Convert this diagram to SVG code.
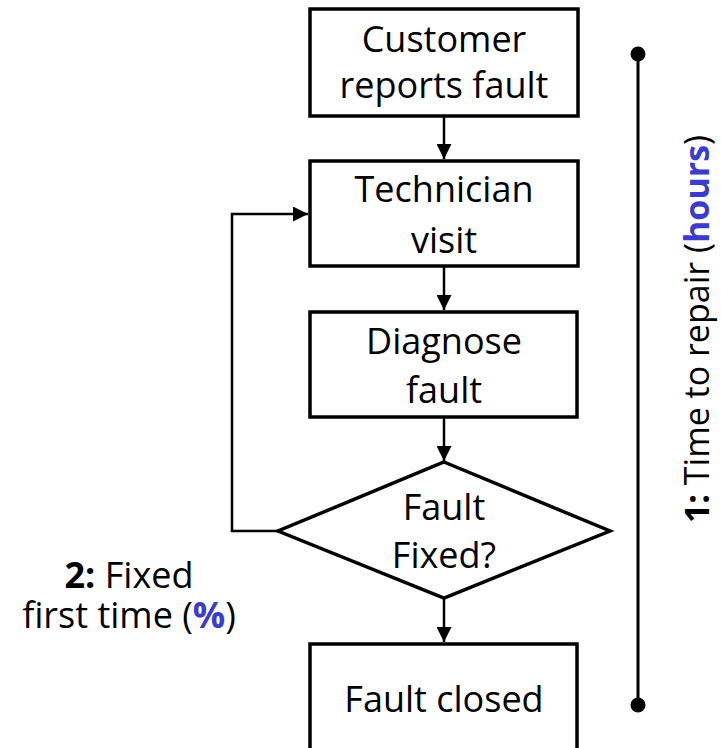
<svg xmlns="http://www.w3.org/2000/svg" width="721" height="748" viewBox="0 0 721 748">
<style>
.box{fill:#fff;stroke:#000;stroke-width:3.5}
.t{font-family:"Open Sans","Liberation Sans",sans-serif;font-size:36px;fill:#000;text-anchor:middle}
.side{font-size:34px}
.b{font-weight:bold}
.blue{fill:#3b3bcc;font-weight:bold}
.conn{fill:none;stroke:#000;stroke-width:2.5}
</style>
<defs>
<marker id="ah" viewBox="0 0 10 10" refX="10" refY="5" markerWidth="6" markerHeight="6" markerUnits="strokeWidth" orient="auto">
<path d="M0,0 L10,5 L0,10 z" fill="#000"/>
</marker>
</defs>
<rect width="721" height="748" fill="#fff"/>
<g id="connectors">
<path class="conn" d="M444,117 V159" marker-end="url(#ah)"/>
<path class="conn" d="M444,267 V310" marker-end="url(#ah)"/>
<path class="conn" d="M444,418 V461" marker-end="url(#ah)"/>
<path class="conn" d="M444,598 V642" marker-end="url(#ah)"/>
<path class="conn" d="M278,531 H232 V214 H308" marker-end="url(#ah)"/>
</g>
<g id="n1">
<rect class="box" x="310" y="9" width="268" height="107"/>
<text class="t" x="444" y="52">Customer</text>
<text class="t" x="444" y="98">reports fault</text>
</g>
<g id="n2">
<rect class="box" x="310" y="161" width="268" height="105"/>
<text class="t" x="444" y="202">Technician</text>
<text class="t" x="444" y="253">visit</text>
</g>
<g id="n3">
<rect class="box" x="310" y="312" width="267" height="105"/>
<text class="t" x="444" y="354">Diagnose</text>
<text class="t" x="444" y="403">fault</text>
</g>
<g id="n4">
<polygon class="box" points="444,462 610,531 444,598 278,531"/>
<text class="t" x="444" y="520">Fault</text>
<text class="t" x="444" y="568">Fixed?</text>
</g>
<g id="n5">
<rect class="box" x="310" y="644" width="267" height="140"/>
<text class="t" x="444" y="712">Fault closed</text>
</g>
<g id="timeline">
<line x1="638" y1="54" x2="638" y2="705" stroke="#000" stroke-width="3"/>
<circle cx="638" cy="54" r="7.5" fill="#000"/>
<circle cx="638" cy="705" r="7.5" fill="#000"/>
<text class="t side" transform="translate(709,329) rotate(-90)"><tspan class="b">1:</tspan> Time to repair (<tspan class="blue">hours</tspan>)</text>
</g>
<g id="label2">
<text class="t" x="129" y="588"><tspan class="b">2:</tspan> Fixed</text>
<text class="t" x="129" y="628">first time (<tspan class="blue">%</tspan>)</text>
</g>
</svg>
